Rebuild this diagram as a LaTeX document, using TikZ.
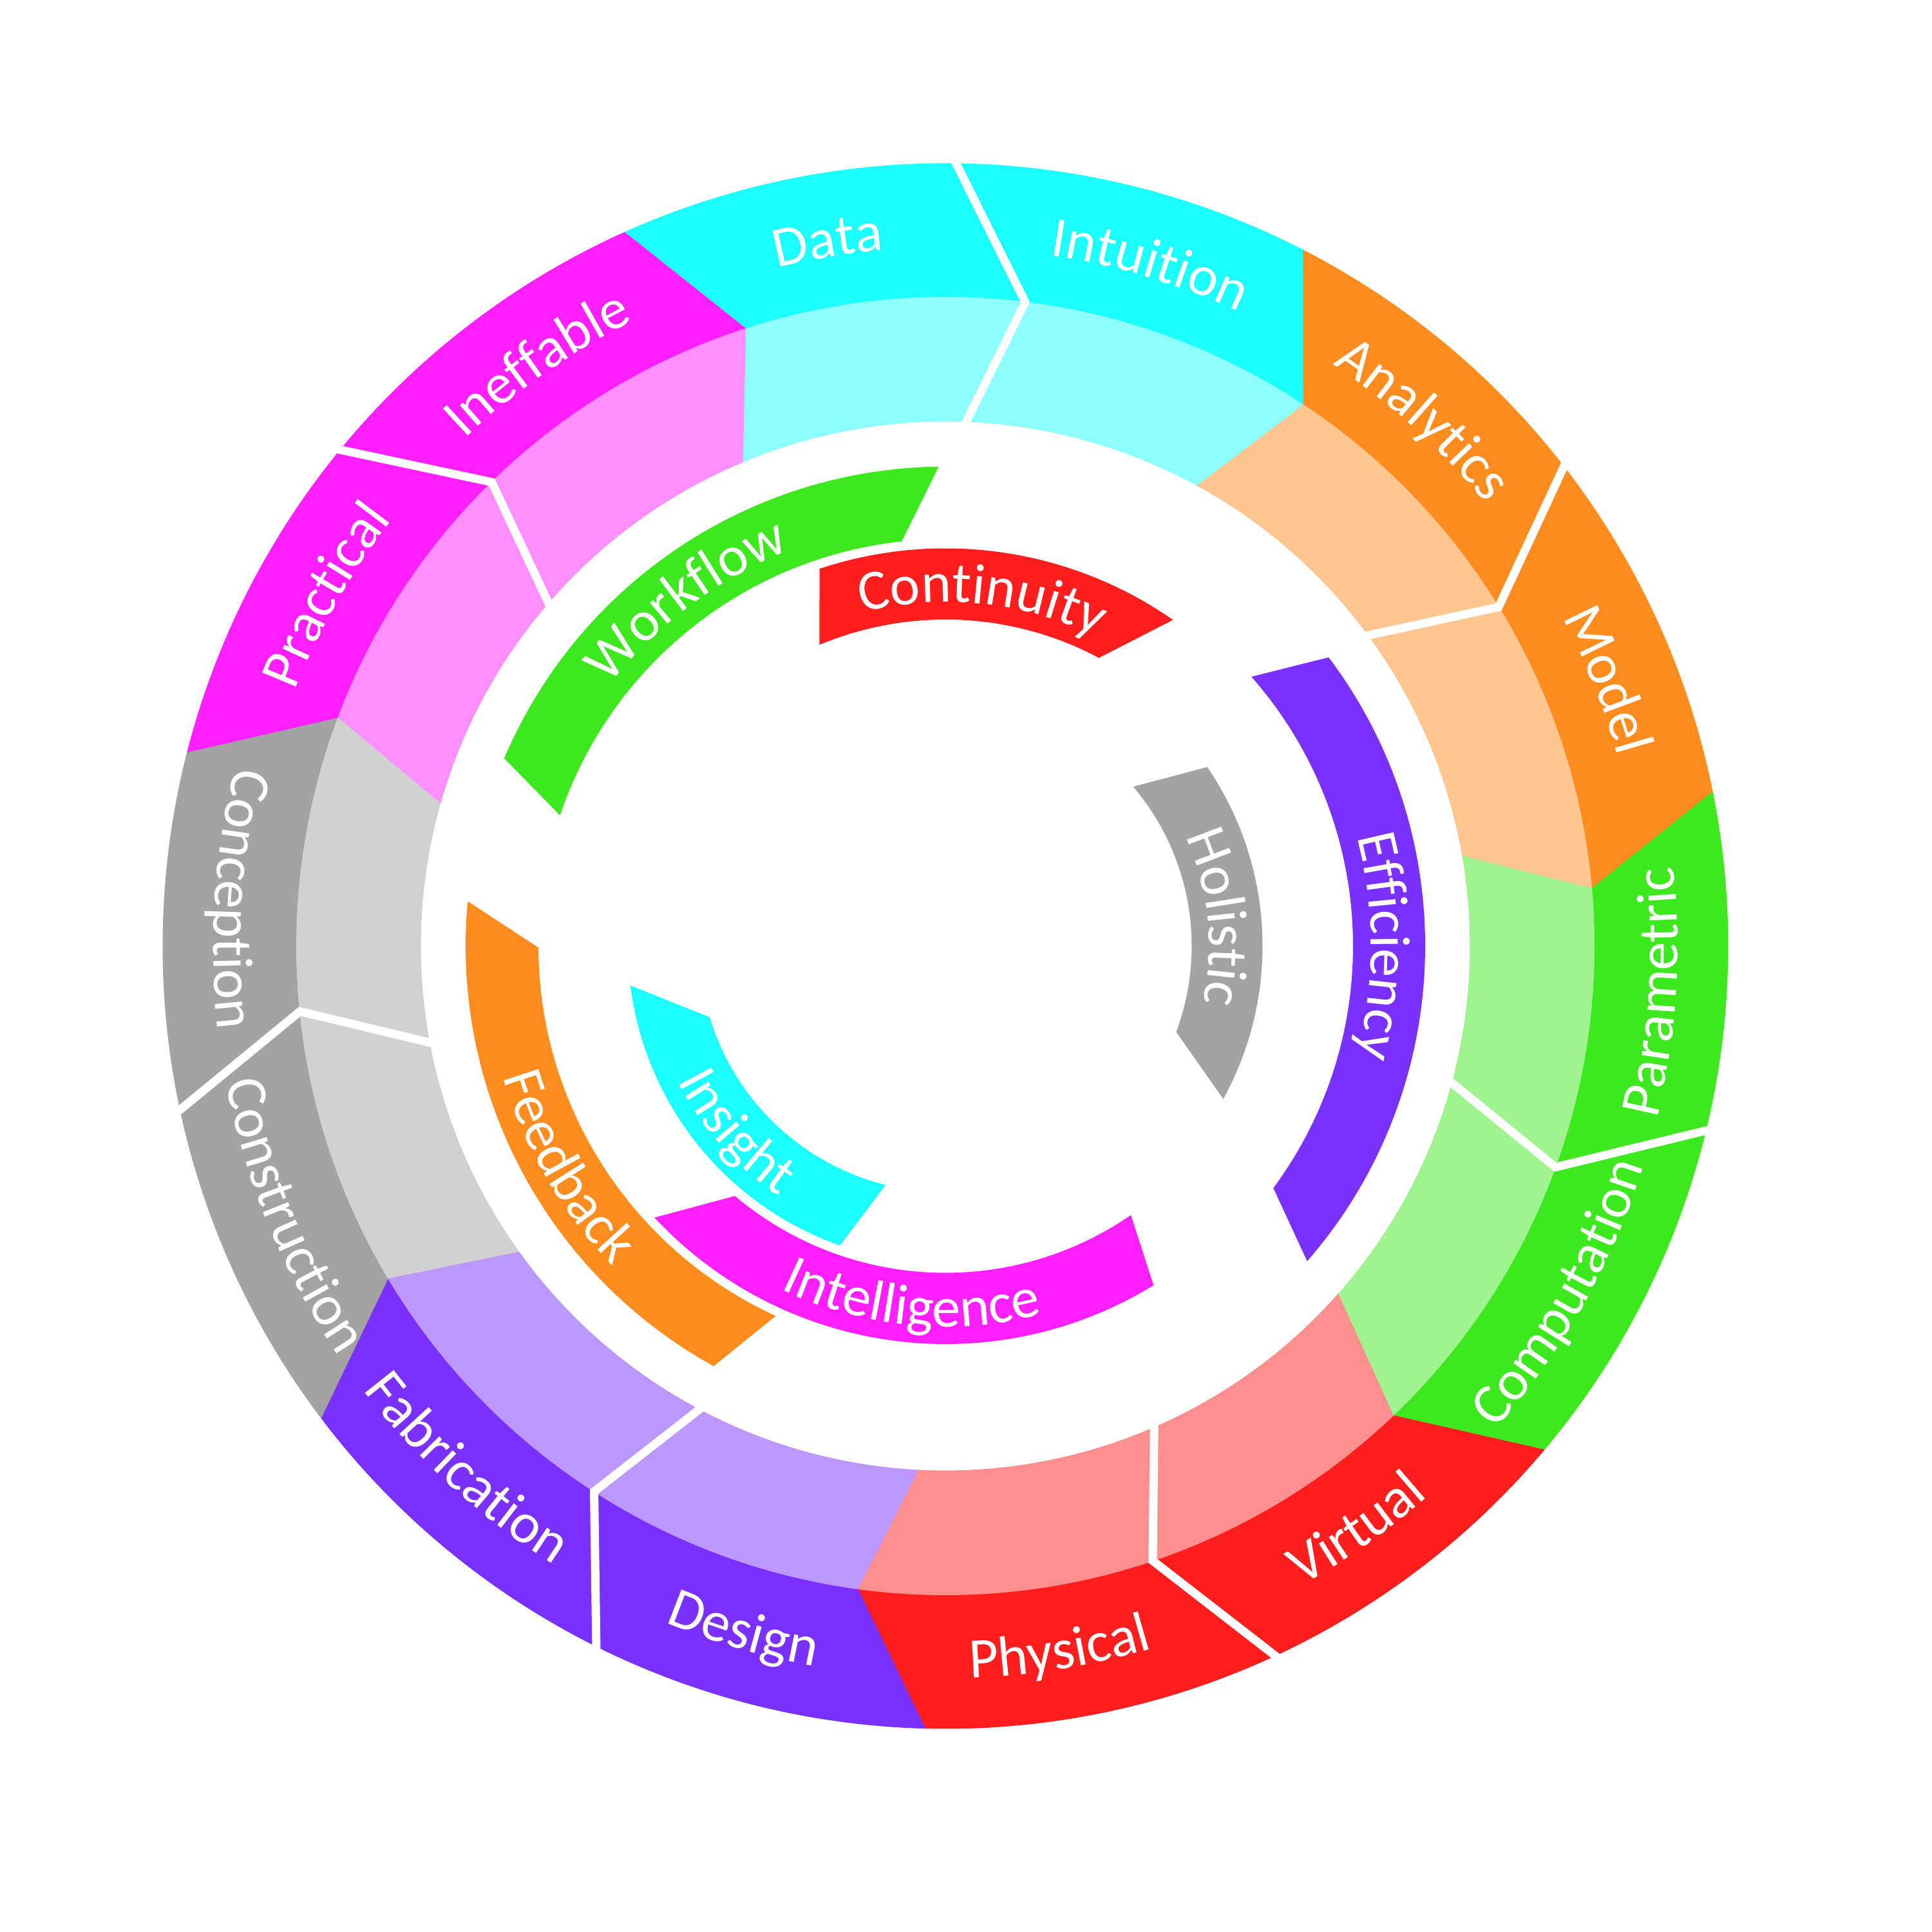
\documentclass[tikz,border=0pt]{standalone}
\usepackage{fontspec}
\setmainfont{Carlito}
\usetikzlibrary{decorations.text,calc}
\definecolor{cyS}{HTML}{1BFFFF}
\definecolor{orS}{HTML}{FF8C1E}
\definecolor{grS}{HTML}{3EE81E}
\definecolor{rdS}{HTML}{FF1E1E}
\definecolor{puS}{HTML}{7A30FF}
\definecolor{gyS}{HTML}{A3A3A3}
\definecolor{mgS}{HTML}{FF1FFF}
\newcommand{\lblfont}{\fontsize{25.2pt}{30pt}\selectfont}
\tikzset{
  whiteline/.style={white, line width=0.13cm, line join=miter},
  lbl/.style={decorate, decoration={text along path, text align=center, text color=white, text={|\lblfont|#1}}},
}
\newcommand{\cwtext}[4]{\path[lbl={#1}] ({#2+#4}:#3) arc[start angle={#2+#4}, end angle={#2-#4}, radius=#3];}
\newcommand{\ccwtext}[4]{\path[lbl={#1}] ({#2-#4}:#3) arc[start angle={#2-#4}, end angle={#2+#4}, radius=#3];}
\begin{document}
\begin{tikzpicture}
\useasboundingbox (-14.68,-15.31) rectangle (15.32,14.69);
% outer and middle rings
\foreach \a/\b/\c in {107.93/82.93/cyS, 82.93/56.50/cyS, 56.50/31.50/orS, 31.50/5.07/orS, 5.07/-19.93/grS, -19.93/-46.36/grS, -46.36/-71.36/rdS, -71.36/-97.78/rdS, -97.78/-122.78/puS, -122.78/-149.21/puS, -149.21/-174.21/gyS, -174.21/-200.64/gyS, -200.64/-225.64/mgS, -225.64/-252.07/mgS}{
  \fill[\c, draw=\c, line width=0.3pt] ({\a+6.28}:12.15) arc[start angle={\a+6.28}, end angle={\b+6.28}, radius=12.15] -- ({\b}:10.075) arc[start angle=\b, end angle=\a, radius=10.075] -- cycle;
  \fill[\c!50!white, draw=\c!50!white, line width=0.3pt] ({\a}:10.075) arc[start angle=\a, end angle=\b, radius=10.075] -- ({\b+4.8}:8.15) arc[start angle={\b+4.8}, end angle={\a+4.8}, radius=8.15] -- cycle;
}
% white separators
\foreach \w [count=\i] in {82.93, 31.50, -19.93, -71.36, -122.78, -174.21, -225.64}{
  \coordinate (wo\i) at ({\w+6.28}:12.15);
  \coordinate (wm\i) at ({\w}:10.075);
  \coordinate (wi\i) at ({\w+4.8}:8.15);
  \draw[whiteline] ($(wo\i)!-0.15!(wm\i)$) -- (wm\i) -- ($(wi\i)!-0.15!(wm\i)$);
}
% inner arcs
\fill[grS] (156.96:7.445) arc[start angle=156.96, end angle=90.8, radius=7.445] -- (96.16:6.32) arc[start angle=96.16, end angle=161.26, radius=6.32] -- cycle;
\fill[rdS] (108.45:6.175) arc[start angle=108.45, end angle=55.09, radius=6.175] -- (61.96:5.07) arc[start angle=61.96, end angle=112.7, radius=5.07] -- cycle;
\fill[puS] (36.99:7.45) arc[start angle=36.99, end angle=-41.06, radius=7.45] -- (-36.43:6.33) arc[start angle=-36.43, end angle=41.35, radius=6.33] -- cycle;
\fill[gyS] (34.36:4.925) arc[start angle=34.36, end angle=-28.82, radius=4.925] -- (-20.43:3.825) arc[start angle=-20.43, end angle=40.31, radius=3.825] -- cycle;
\fill[cyS] (250.58:4.93) arc[start angle=250.58, end angle=187.15, radius=4.93] -- (196.8:3.825) arc[start angle=196.8, end angle=255.92, radius=3.825] -- cycle;
\fill[mgS] (301.53:6.18) arc[start angle=301.53, end angle=223.03, radius=6.18] -- (229.9:5.075) arc[start angle=229.9, end angle=304.58, radius=5.075] -- cycle;
\fill[orS] (241.12:7.45) arc[start angle=241.12, end angle=174.65, radius=7.45] -- (180.22:6.32) arc[start angle=180.22, end angle=245.35, radius=6.32] -- cycle;
% outer labels
\cwtext{Data}{99.5}{10.85}{40}
\cwtext{Intuition}{73.3}{10.85}{40}
\cwtext{Analytics}{47.8}{10.85}{40}
\cwtext{Model}{21.9}{10.85}{40}
\cwtext{Practical}{150.5}{10.85}{40}
\cwtext{Ineffable}{125}{10.85}{40}
\ccwtext{Parametric}{-3.7}{11.37}{40}
\ccwtext{Computation}{-29.4}{11.37}{40}
\ccwtext{Virtual}{-54.8}{11.37}{40}
\ccwtext{Physical}{-80.8}{11.37}{40}
\ccwtext{Design}{-106.4}{11.37}{40}
\ccwtext{Fabrication}{-132.5}{11.37}{40}
\ccwtext{Construction}{-157.6}{11.37}{40}
\ccwtext{Conception}{176.2}{11.37}{40}
% inner labels
\cwtext{Workflow}{126.8}{6.60}{60}
\cwtext{Continuity}{84}{5.34}{60}
\cwtext{Efficiency}{0}{6.61}{60}
\cwtext{Holistic}{6}{4.095}{60}
\ccwtext{Insight}{221.5}{4.66}{60}
\ccwtext{Intelligence}{264.5}{5.91}{60}
\ccwtext{Feedback}{210.2}{7.165}{60}
\end{tikzpicture}
\end{document}
